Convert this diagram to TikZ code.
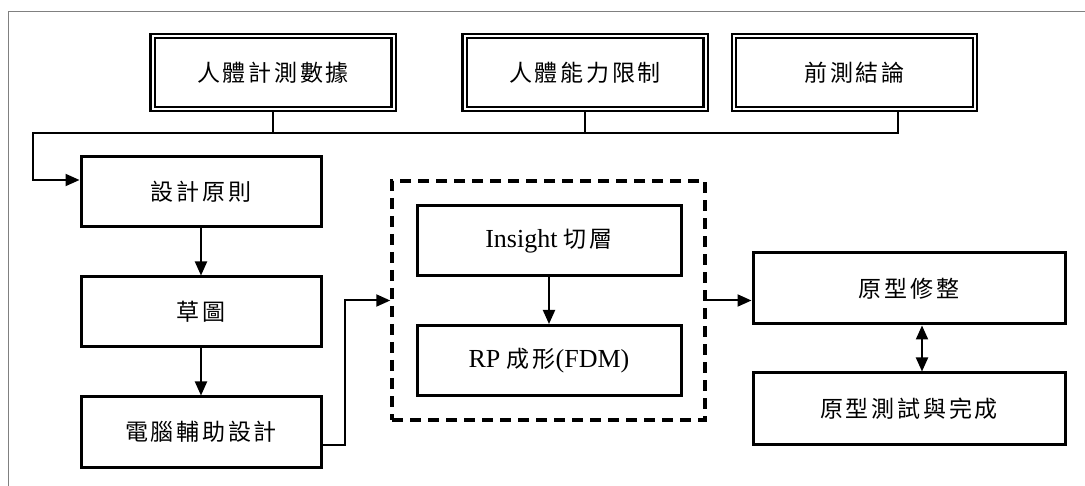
\documentclass[tikz,border=0pt]{standalone}
\usepackage{fontspec}
\setmainfont{Liberation Serif}
\newfontfamily\cjk[LetterSpace=12]{Noto Sans CJK TC}
\newcommand{\zh}[1]{{\cjk\fontsize{23}{28}\selectfont #1}}
\usetikzlibrary{arrows.meta, calc}

\begin{document}
\begin{tikzpicture}[x=1pt, y=-1pt, >={Triangle[length=14pt,width=12pt]}, line width=2pt, font=\fontsize{26}{30}\selectfont]

\tikzstyle{source} = [rectangle, minimum width=241pt, minimum height=73pt, text centered, draw=black, double, double distance=2pt, line width=2.2pt]
\tikzstyle{stage} = [rectangle, minimum width=240pt, minimum height=70pt, text centered, draw=black, line width=3pt]
\tikzstyle{flow} = [->, line width=2pt]

\useasboundingbox (0,0) rectangle (1085,486);
\draw [gray, line width=1pt] (8,486) -- (8,12) -- (1085,12);

% inputs
\node (data) [source] at (273,72.5) {\zh{人體計測數據}};
\node (limit) [source] at (585,72.5) {\zh{人體能力限制}};
\node (pretest) [source] at (854.5,72.5) {\zh{前測結論}};

% design column
\node (principle) [stage] at (201,191.5) {\zh{設計原則}};
\node (sketch) [stage] at (201,312) {\zh{草圖}};
\node (cad) [stage] at (201,432) {\zh{電腦輔助設計}};

% prototyping group
\node (frame) [rectangle, draw=black, line width=3.5pt, dash pattern=on 11pt off 7pt, minimum width=313pt, minimum height=239pt] at (548.5,300.5) {};
\node (slice) [stage, minimum width=264pt] at (549,241) {Insight \zh{切層}};
\node (rp) [stage, minimum width=264pt] at (549,360.5) {RP \zh{成形}(FDM)};

% results
\node (trim) [stage, minimum width=312pt, minimum height=71pt] at (909,288.5) {\zh{原型修整}};
\node (test) [stage, minimum width=312pt, minimum height=71pt] at (909,408.5) {\zh{原型測試與完成}};

\coordinate (bus) at (33,133);
\draw (data.south) -- (data.south |- bus);
\draw (limit.south) -- (limit.south |- bus);
\draw [flow] ([xshift=43.5pt]pretest.south) |- (bus) |- ([yshift=11.5pt]principle.west);
\draw [flow] (principle) -- (sketch);
\draw [flow] (sketch) -- (cad);
\draw [flow] ([yshift=-13pt]cad.east) -- ++(22,0) |- (frame.west);
\draw [flow] (slice) -- (rp);
\draw [flow] (frame.east) -- (frame.east -| trim.west);
\draw [<->] ([xshift=13pt]trim.south) -- ([xshift=13pt]test.north);

\end{tikzpicture}
\end{document}
